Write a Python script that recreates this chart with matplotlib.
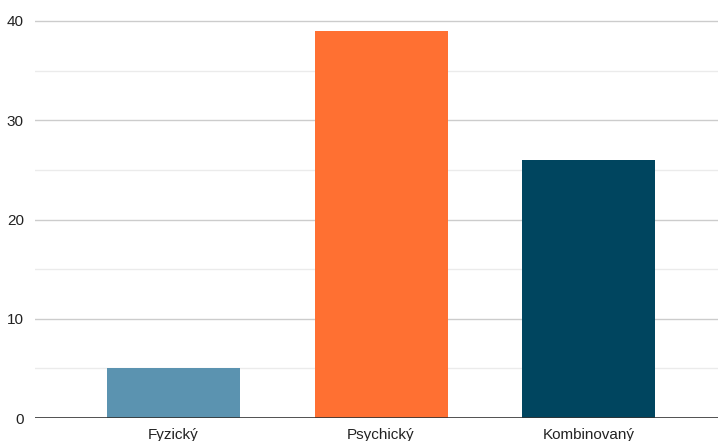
import matplotlib
matplotlib.use("Agg")
import matplotlib.pyplot as plt

categories = ["Fyzický", "Psychický", "Kombinovaný"]
values = [5, 39, 26]
colors = ["#5b93b0", "#ff7032", "#00455f"]
yticks = [0, 10, 20, 30, 40]
minor_ticks = [5, 15, 25, 35]

plt.rcParams['font.family'] = ['Liberation Sans', 'DejaVu Sans']

W, H = 718, 441
fig = plt.figure(figsize=(W/100, H/100), dpi=100)
left_px, right_px, bottom_px, top_px = 35, 718, 418, 15
ax = fig.add_axes([left_px/W, (H-bottom_px)/H, (right_px-left_px)/W, (bottom_px-top_px)/H])

ppu = (418 - 21) / 40.0
ax.set_ylim(0, 40 + (21 - top_px) / ppu)
spacing = 207.5
x0 = 173.5
ax.set_xlim((left_px - x0)/spacing, (right_px - x0)/spacing)

for y in yticks[1:]:
    ax.axhline(y, color="#cccccc", lw=1, zorder=0)
for y in minor_ticks:
    ax.axhline(y, color="#ebebeb", lw=1, zorder=0)

ax.bar(range(len(categories)), values, width=133/spacing, color=colors, zorder=2)
ax.axhline(0, color="#333333", lw=1.2, zorder=3)

for s in ax.spines.values():
    s.set_visible(False)
ax.set_yticks(yticks)
ax.set_yticklabels([str(v) for v in yticks], fontsize=11, color="#222222")
ax.set_xticks(range(len(categories)))
ax.set_xticklabels(categories, fontsize=11, color="#222222")
ax.tick_params(axis='y', length=0, pad=8)
ax.tick_params(axis='x', length=0, pad=7)

fig.savefig("out.png", dpi=100)
